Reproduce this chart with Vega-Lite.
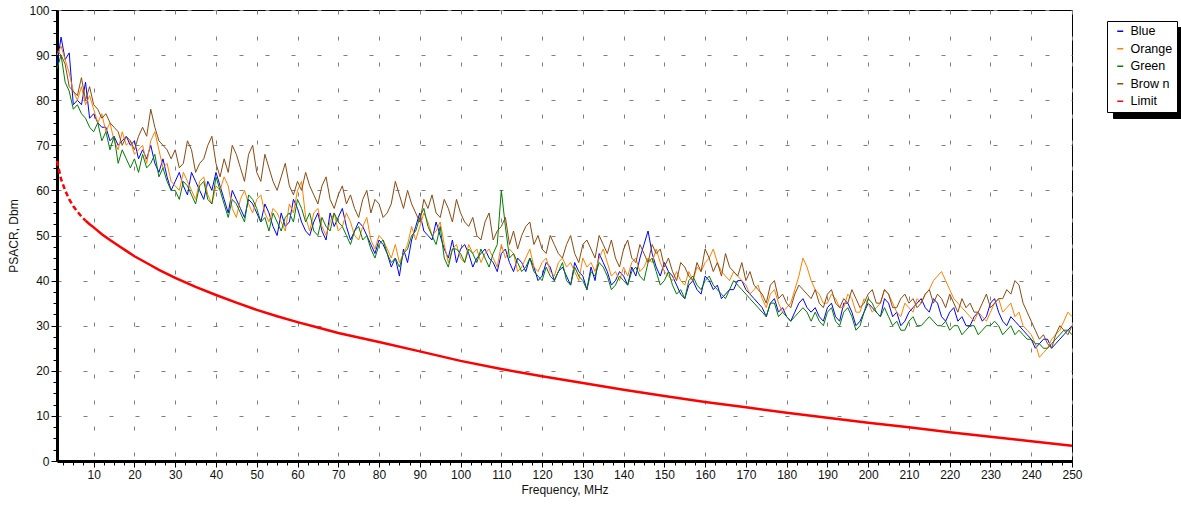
{
  "$schema": "https://vega.github.io/schema/vega-lite/v6.json",
  "width": 1015,
  "height": 451,
  "autosize": "none",
  "padding": {"left": 57, "top": 10, "right": 109, "bottom": 46},
  "config": {
    "font": "Liberation Sans",
    "view": {"stroke": "black", "strokeWidth": 1},
    "axis": {
      "domainColor": "black", "domainWidth": 3, "tickColor": "black",
      "gridColor": "#7f7f7f", "gridDash": [4, 22], "gridWidth": 1,
      "labelFont": "Liberation Sans", "labelFontSize": 12, "labelColor": "#111",
      "titleFont": "Liberation Sans", "titleFontSize": 12, "titleFontWeight": "normal", "titleColor": "#111",
      "labelOverlap": false, "labelFlush": false
    },
    "legend": {
      "title": null, "padding": 4, "labelFontSize": 12.5, "labelColor": "#000", "labelFont": "Liberation Sans",
      "symbolType": "stroke", "symbolSize": 36, "symbolStrokeWidth": 1.5, "rowPadding": 4.5, "labelOffset": 4,
      "symbolOffset": 3, "orient": "none"
    }
  },
  "datasets": {
    "meas": [
      {"f":1,"Blue":88,"Orange":90,"Green":87,"Brow n":91},
      {"f":2,"Blue":94,"Orange":92,"Green":90,"Brow n":90},
      {"f":3,"Blue":89,"Orange":89,"Green":84,"Brow n":88},
      {"f":4,"Blue":90.5,"Orange":86,"Green":82,"Brow n":83},
      {"f":5,"Blue":79,"Orange":82,"Green":78,"Brow n":82},
      {"f":6,"Blue":80,"Orange":80,"Green":79,"Brow n":81},
      {"f":7,"Blue":79,"Orange":83,"Green":77,"Brow n":85},
      {"f":8,"Blue":84,"Orange":79,"Green":76,"Brow n":80},
      {"f":9,"Blue":76,"Orange":81,"Green":74,"Brow n":83},
      {"f":10,"Blue":77,"Orange":78,"Green":73,"Brow n":79},
      {"f":11,"Blue":75,"Orange":75,"Green":75,"Brow n":78},
      {"f":12,"Blue":74,"Orange":77,"Green":71,"Brow n":76},
      {"f":13,"Blue":74,"Orange":73,"Green":73,"Brow n":77},
      {"f":14,"Blue":71,"Orange":75,"Green":69,"Brow n":75},
      {"f":15,"Blue":72,"Orange":71,"Green":72,"Brow n":74},
      {"f":16,"Blue":70,"Orange":69,"Green":66,"Brow n":73},
      {"f":17,"Blue":71,"Orange":73,"Green":69,"Brow n":70},
      {"f":18,"Blue":72,"Orange":70,"Green":67,"Brow n":72},
      {"f":19,"Blue":70,"Orange":71,"Green":65,"Brow n":71},
      {"f":20,"Blue":71,"Orange":68,"Green":67,"Brow n":69},
      {"f":21,"Blue":67,"Orange":69,"Green":64,"Brow n":72},
      {"f":22,"Blue":69,"Orange":70,"Green":68,"Brow n":74},
      {"f":23,"Blue":67,"Orange":66,"Green":65,"Brow n":72},
      {"f":24,"Blue":70,"Orange":71,"Green":66,"Brow n":78},
      {"f":25,"Blue":66,"Orange":73,"Green":68,"Brow n":74},
      {"f":26,"Blue":64,"Orange":69,"Green":63,"Brow n":71},
      {"f":27,"Blue":67,"Orange":65,"Green":65,"Brow n":70},
      {"f":28,"Blue":63,"Orange":66,"Green":62,"Brow n":69},
      {"f":29,"Blue":60,"Orange":62,"Green":60,"Brow n":67},
      {"f":30,"Blue":62,"Orange":61,"Green":60,"Brow n":69},
      {"f":31,"Blue":64,"Orange":60,"Green":58,"Brow n":65},
      {"f":32,"Blue":61,"Orange":64,"Green":62,"Brow n":66},
      {"f":33,"Blue":59,"Orange":62,"Green":61,"Brow n":71},
      {"f":34,"Blue":64,"Orange":60,"Green":59,"Brow n":69},
      {"f":35,"Blue":62,"Orange":58,"Green":57,"Brow n":64},
      {"f":36,"Blue":60,"Orange":62,"Green":61,"Brow n":66},
      {"f":37,"Blue":58,"Orange":63,"Green":62,"Brow n":67},
      {"f":38,"Blue":62,"Orange":59,"Green":58,"Brow n":70},
      {"f":39,"Blue":60,"Orange":57,"Green":57,"Brow n":72},
      {"f":40,"Blue":64,"Orange":61,"Green":63,"Brow n":66},
      {"f":41,"Blue":61,"Orange":60,"Green":60,"Brow n":63},
      {"f":42,"Blue":58,"Orange":63,"Green":57,"Brow n":67},
      {"f":43,"Blue":55,"Orange":61,"Green":54,"Brow n":64},
      {"f":44,"Blue":60,"Orange":56,"Green":58,"Brow n":70},
      {"f":45,"Blue":58,"Orange":54,"Green":57,"Brow n":68},
      {"f":46,"Blue":56,"Orange":58,"Green":55,"Brow n":65},
      {"f":47,"Blue":54,"Orange":60,"Green":53,"Brow n":62},
      {"f":48,"Blue":58,"Orange":57,"Green":59,"Brow n":68},
      {"f":49,"Blue":57,"Orange":55,"Green":58,"Brow n":70},
      {"f":50,"Blue":55,"Orange":58,"Green":56,"Brow n":64},
      {"f":51,"Blue":53,"Orange":59,"Green":53,"Brow n":62},
      {"f":52,"Blue":57,"Orange":55,"Green":54,"Brow n":68},
      {"f":53,"Blue":55,"Orange":53,"Green":51,"Brow n":65},
      {"f":54,"Blue":52,"Orange":56,"Green":55,"Brow n":62},
      {"f":55,"Blue":50,"Orange":55,"Green":53,"Brow n":60},
      {"f":56,"Blue":55,"Orange":53,"Green":51,"Brow n":63},
      {"f":57,"Blue":52,"Orange":51,"Green":54,"Brow n":66},
      {"f":58,"Blue":53,"Orange":57,"Green":55,"Brow n":61},
      {"f":59,"Blue":58,"Orange":55,"Green":53,"Brow n":59},
      {"f":60,"Blue":56,"Orange":60,"Green":58,"Brow n":62},
      {"f":61,"Blue":53,"Orange":62,"Green":56,"Brow n":60},
      {"f":62,"Blue":51,"Orange":54,"Green":53,"Brow n":64},
      {"f":63,"Blue":50,"Orange":51,"Green":55,"Brow n":61},
      {"f":64,"Blue":53,"Orange":55,"Green":51,"Brow n":59},
      {"f":65,"Blue":55,"Orange":56,"Green":50,"Brow n":57},
      {"f":66,"Blue":51,"Orange":52,"Green":54,"Brow n":61},
      {"f":67,"Blue":49,"Orange":50,"Green":52,"Brow n":63},
      {"f":68,"Blue":55,"Orange":53,"Green":51,"Brow n":58},
      {"f":69,"Blue":52,"Orange":55,"Green":55,"Brow n":56},
      {"f":70,"Blue":54,"Orange":51,"Green":53,"Brow n":59},
      {"f":71,"Blue":56,"Orange":52,"Green":52,"Brow n":61},
      {"f":72,"Blue":52,"Orange":55,"Green":50,"Brow n":57},
      {"f":73,"Blue":49,"Orange":53,"Green":48,"Brow n":59},
      {"f":74,"Blue":51,"Orange":50,"Green":51,"Brow n":56},
      {"f":75,"Blue":53,"Orange":49,"Green":52,"Brow n":54},
      {"f":76,"Blue":52,"Orange":52,"Green":49,"Brow n":58},
      {"f":77,"Blue":50,"Orange":54,"Green":50,"Brow n":60},
      {"f":78,"Blue":48,"Orange":49,"Green":47,"Brow n":55},
      {"f":79,"Blue":46,"Orange":47,"Green":45,"Brow n":58},
      {"f":80,"Blue":49,"Orange":50,"Green":48,"Brow n":57},
      {"f":81,"Blue":48,"Orange":49,"Green":49,"Brow n":54},
      {"f":82,"Blue":46,"Orange":47,"Green":46,"Brow n":55},
      {"f":83,"Blue":43,"Orange":45,"Green":44,"Brow n":57},
      {"f":84,"Blue":45,"Orange":48,"Green":45,"Brow n":62},
      {"f":85,"Blue":41,"Orange":44,"Green":43,"Brow n":59},
      {"f":86,"Blue":47,"Orange":46,"Green":46,"Brow n":56},
      {"f":87,"Blue":44,"Orange":48,"Green":47,"Brow n":60},
      {"f":88,"Blue":49,"Orange":52,"Green":50,"Brow n":57},
      {"f":89,"Blue":52,"Orange":49,"Green":51,"Brow n":55},
      {"f":90,"Blue":55,"Orange":52,"Green":54,"Brow n":53},
      {"f":91,"Blue":51,"Orange":55,"Green":56,"Brow n":58},
      {"f":92,"Blue":50,"Orange":53,"Green":52,"Brow n":56},
      {"f":93,"Blue":49,"Orange":50,"Green":50,"Brow n":59},
      {"f":94,"Blue":53,"Orange":51,"Green":48,"Brow n":55},
      {"f":95,"Blue":50,"Orange":53,"Green":52,"Brow n":54},
      {"f":96,"Blue":47,"Orange":48,"Green":45,"Brow n":58},
      {"f":97,"Blue":45,"Orange":44,"Green":43,"Brow n":56},
      {"f":98,"Blue":49,"Orange":47,"Green":47,"Brow n":53},
      {"f":99,"Blue":44,"Orange":48,"Green":47,"Brow n":58},
      {"f":100,"Blue":47,"Orange":45,"Green":46,"Brow n":55},
      {"f":101,"Blue":48,"Orange":44,"Green":44,"Brow n":53},
      {"f":102,"Blue":46,"Orange":48,"Green":47,"Brow n":52},
      {"f":103,"Blue":43,"Orange":46,"Green":46,"Brow n":54},
      {"f":104,"Blue":45,"Orange":47,"Green":44,"Brow n":50},
      {"f":105,"Blue":46,"Orange":44,"Green":47,"Brow n":49},
      {"f":106,"Blue":47,"Orange":46,"Green":45,"Brow n":53},
      {"f":107,"Blue":45,"Orange":47,"Green":43,"Brow n":55},
      {"f":108,"Blue":44,"Orange":45,"Green":46,"Brow n":49},
      {"f":109,"Blue":42,"Orange":43,"Green":48,"Brow n":51},
      {"f":110,"Blue":46,"Orange":48,"Green":60,"Brow n":52},
      {"f":111,"Blue":47,"Orange":45,"Green":52,"Brow n":54},
      {"f":112,"Blue":44,"Orange":47,"Green":45,"Brow n":48},
      {"f":113,"Blue":42,"Orange":46,"Green":46,"Brow n":51},
      {"f":114,"Blue":45,"Orange":42,"Green":44,"Brow n":47},
      {"f":115,"Blue":44,"Orange":43,"Green":42,"Brow n":50},
      {"f":116,"Blue":42,"Orange":45,"Green":43,"Brow n":52},
      {"f":117,"Blue":45,"Orange":47,"Green":45,"Brow n":53},
      {"f":118,"Blue":43,"Orange":43,"Green":42,"Brow n":48},
      {"f":119,"Blue":40,"Orange":42,"Green":41,"Brow n":50},
      {"f":120,"Blue":41,"Orange":44,"Green":40,"Brow n":47},
      {"f":121,"Blue":44,"Orange":45,"Green":43,"Brow n":46},
      {"f":122,"Blue":43,"Orange":42,"Green":41,"Brow n":50},
      {"f":123,"Blue":40,"Orange":41,"Green":40,"Brow n":48},
      {"f":124,"Blue":42,"Orange":44,"Green":42,"Brow n":46},
      {"f":125,"Blue":43,"Orange":45,"Green":44,"Brow n":45},
      {"f":126,"Blue":41,"Orange":43,"Green":40,"Brow n":48},
      {"f":127,"Blue":39,"Orange":44,"Green":39,"Brow n":50},
      {"f":128,"Blue":44,"Orange":42,"Green":43,"Brow n":46},
      {"f":129,"Blue":42,"Orange":40,"Green":41,"Brow n":44},
      {"f":130,"Blue":41,"Orange":45,"Green":40,"Brow n":48},
      {"f":131,"Blue":38,"Orange":43,"Green":38,"Brow n":49},
      {"f":132,"Blue":43,"Orange":44,"Green":42,"Brow n":47},
      {"f":133,"Blue":40,"Orange":42,"Green":41,"Brow n":45},
      {"f":134,"Blue":46,"Orange":45,"Green":44,"Brow n":50},
      {"f":135,"Blue":44,"Orange":47,"Green":43,"Brow n":48},
      {"f":136,"Blue":42,"Orange":44,"Green":41,"Brow n":46},
      {"f":137,"Blue":39,"Orange":41,"Green":38,"Brow n":49},
      {"f":138,"Blue":40,"Orange":42,"Green":39,"Brow n":45},
      {"f":139,"Blue":42,"Orange":40,"Green":41,"Brow n":43},
      {"f":140,"Blue":41,"Orange":43,"Green":40,"Brow n":47},
      {"f":141,"Blue":39,"Orange":41,"Green":39,"Brow n":49},
      {"f":142,"Blue":43,"Orange":44,"Green":42,"Brow n":45},
      {"f":143,"Blue":41,"Orange":45,"Green":43,"Brow n":44},
      {"f":144,"Blue":45,"Orange":42,"Green":41,"Brow n":48},
      {"f":145,"Blue":48,"Orange":43,"Green":40,"Brow n":46},
      {"f":146,"Blue":51,"Orange":45,"Green":44,"Brow n":44},
      {"f":147,"Blue":46,"Orange":44,"Green":45,"Brow n":48},
      {"f":148,"Blue":43,"Orange":47,"Green":42,"Brow n":46},
      {"f":149,"Blue":41,"Orange":44,"Green":39,"Brow n":47},
      {"f":150,"Blue":44,"Orange":42,"Green":40,"Brow n":43},
      {"f":151,"Blue":42,"Orange":41,"Green":42,"Brow n":45},
      {"f":152,"Blue":41,"Orange":40,"Green":39,"Brow n":42},
      {"f":153,"Blue":39,"Orange":42,"Green":37,"Brow n":40},
      {"f":154,"Blue":37,"Orange":40,"Green":38,"Brow n":44},
      {"f":155,"Blue":36,"Orange":39,"Green":36,"Brow n":43},
      {"f":156,"Blue":39,"Orange":42,"Green":40,"Brow n":41},
      {"f":157,"Blue":40,"Orange":40,"Green":41,"Brow n":40},
      {"f":158,"Blue":38,"Orange":43,"Green":39,"Brow n":44},
      {"f":159,"Blue":37,"Orange":42,"Green":38,"Brow n":42},
      {"f":160,"Blue":41,"Orange":44,"Green":40,"Brow n":47},
      {"f":161,"Blue":40,"Orange":45,"Green":41,"Brow n":45},
      {"f":162,"Blue":38,"Orange":47,"Green":39,"Brow n":42},
      {"f":163,"Blue":39,"Orange":44,"Green":38,"Brow n":44},
      {"f":164,"Blue":36,"Orange":42,"Green":37,"Brow n":41},
      {"f":165,"Blue":37,"Orange":41,"Green":36,"Brow n":46},
      {"f":166,"Blue":38,"Orange":40,"Green":38,"Brow n":43},
      {"f":167,"Blue":38,"Orange":42,"Green":40,"Brow n":42},
      {"f":168,"Blue":40,"Orange":41,"Green":39,"Brow n":41},
      {"f":169,"Blue":40,"Orange":40,"Green":38,"Brow n":44},
      {"f":170,"Blue":38,"Orange":39,"Green":37,"Brow n":40},
      {"f":171,"Blue":37,"Orange":37,"Green":36,"Brow n":42},
      {"f":172,"Blue":36,"Orange":38,"Green":35,"Brow n":39},
      {"f":173,"Blue":35,"Orange":39,"Green":34,"Brow n":38},
      {"f":174,"Blue":34,"Orange":36,"Green":33,"Brow n":37},
      {"f":175,"Blue":32,"Orange":34,"Green":32,"Brow n":35},
      {"f":176,"Blue":35,"Orange":37,"Green":35,"Brow n":39},
      {"f":177,"Blue":36,"Orange":38,"Green":35,"Brow n":40},
      {"f":178,"Blue":33,"Orange":35,"Green":32,"Brow n":36},
      {"f":179,"Blue":34,"Orange":33,"Green":33,"Brow n":37},
      {"f":180,"Blue":32,"Orange":34,"Green":32,"Brow n":35},
      {"f":181,"Blue":31,"Orange":35,"Green":31,"Brow n":34},
      {"f":182,"Blue":33,"Orange":38,"Green":32,"Brow n":37},
      {"f":183,"Blue":35,"Orange":41,"Green":33,"Brow n":39},
      {"f":184,"Blue":36,"Orange":45,"Green":34,"Brow n":38},
      {"f":185,"Blue":34,"Orange":43,"Green":33,"Brow n":37},
      {"f":186,"Blue":33,"Orange":40,"Green":31,"Brow n":36},
      {"f":187,"Blue":34,"Orange":38,"Green":33,"Brow n":38},
      {"f":188,"Blue":32,"Orange":37,"Green":31,"Brow n":35},
      {"f":189,"Blue":31,"Orange":35,"Green":30,"Brow n":34},
      {"f":190,"Blue":34,"Orange":35,"Green":33,"Brow n":37},
      {"f":191,"Blue":35,"Orange":37,"Green":34,"Brow n":38},
      {"f":192,"Blue":32,"Orange":36,"Green":31,"Brow n":35},
      {"f":193,"Blue":31,"Orange":34,"Green":30,"Brow n":34},
      {"f":194,"Blue":35,"Orange":34,"Green":33,"Brow n":36},
      {"f":195,"Blue":35,"Orange":37,"Green":34,"Brow n":35},
      {"f":196,"Blue":33,"Orange":36,"Green":32,"Brow n":38},
      {"f":197,"Blue":30,"Orange":33,"Green":29,"Brow n":36},
      {"f":198,"Blue":31,"Orange":33,"Green":30,"Brow n":34},
      {"f":199,"Blue":33,"Orange":36,"Green":33,"Brow n":35},
      {"f":200,"Blue":35,"Orange":35,"Green":36,"Brow n":37},
      {"f":201,"Blue":34,"Orange":33,"Green":35,"Brow n":38},
      {"f":202,"Blue":33,"Orange":34,"Green":33,"Brow n":35},
      {"f":203,"Blue":32,"Orange":35,"Green":32,"Brow n":35},
      {"f":204,"Blue":36,"Orange":38,"Green":34,"Brow n":38},
      {"f":205,"Blue":35,"Orange":37,"Green":32,"Brow n":37},
      {"f":206,"Blue":32,"Orange":35,"Green":30,"Brow n":34},
      {"f":207,"Blue":33,"Orange":33,"Green":31,"Brow n":34},
      {"f":208,"Blue":30,"Orange":32,"Green":29,"Brow n":36},
      {"f":209,"Blue":31,"Orange":35,"Green":29,"Brow n":37},
      {"f":210,"Blue":33,"Orange":34,"Green":31,"Brow n":35},
      {"f":211,"Blue":34,"Orange":33,"Green":32,"Brow n":36},
      {"f":212,"Blue":35,"Orange":36,"Green":30,"Brow n":34},
      {"f":213,"Blue":36,"Orange":35,"Green":30,"Brow n":35},
      {"f":214,"Blue":34,"Orange":37,"Green":31,"Brow n":37},
      {"f":215,"Blue":33,"Orange":38,"Green":32,"Brow n":38},
      {"f":216,"Blue":36,"Orange":40,"Green":31,"Brow n":35},
      {"f":217,"Blue":35,"Orange":41,"Green":30,"Brow n":37},
      {"f":218,"Blue":32,"Orange":42,"Green":30,"Brow n":36},
      {"f":219,"Blue":31,"Orange":40,"Green":31,"Brow n":34},
      {"f":220,"Blue":33,"Orange":38,"Green":29,"Brow n":37},
      {"f":221,"Blue":34,"Orange":36,"Green":30,"Brow n":35},
      {"f":222,"Blue":31,"Orange":35,"Green":30,"Brow n":33},
      {"f":223,"Blue":32,"Orange":34,"Green":28,"Brow n":36},
      {"f":224,"Blue":30,"Orange":33,"Green":29,"Brow n":34},
      {"f":225,"Blue":30,"Orange":32,"Green":30,"Brow n":35},
      {"f":226,"Blue":32,"Orange":31,"Green":30,"Brow n":33},
      {"f":227,"Blue":33,"Orange":33,"Green":28,"Brow n":33},
      {"f":228,"Blue":31,"Orange":32,"Green":29,"Brow n":35},
      {"f":229,"Blue":32,"Orange":31,"Green":30,"Brow n":37},
      {"f":230,"Blue":35,"Orange":33,"Green":30,"Brow n":34},
      {"f":231,"Blue":36,"Orange":35,"Green":31,"Brow n":35},
      {"f":232,"Blue":33,"Orange":36,"Green":30,"Brow n":36},
      {"f":233,"Blue":31,"Orange":33,"Green":28,"Brow n":36},
      {"f":234,"Blue":30,"Orange":34,"Green":29,"Brow n":38},
      {"f":235,"Blue":32,"Orange":35,"Green":30,"Brow n":37},
      {"f":236,"Blue":31,"Orange":32,"Green":28,"Brow n":40},
      {"f":237,"Blue":30,"Orange":33,"Green":29,"Brow n":39},
      {"f":238,"Blue":29,"Orange":30,"Green":28,"Brow n":35},
      {"f":239,"Blue":28,"Orange":29,"Green":27,"Brow n":33},
      {"f":240,"Blue":27,"Orange":28,"Green":27,"Brow n":31},
      {"f":241,"Blue":25,"Orange":26,"Green":26,"Brow n":29},
      {"f":242,"Blue":26,"Orange":23,"Green":26,"Brow n":27},
      {"f":243,"Blue":27,"Orange":24,"Green":25,"Brow n":28},
      {"f":244,"Blue":27,"Orange":25,"Green":25,"Brow n":26},
      {"f":245,"Blue":25,"Orange":27,"Green":26,"Brow n":25},
      {"f":246,"Blue":26,"Orange":28,"Green":27,"Brow n":28},
      {"f":247,"Blue":27,"Orange":29,"Green":28,"Brow n":30},
      {"f":248,"Blue":28,"Orange":31,"Green":29,"Brow n":29},
      {"f":249,"Blue":29,"Orange":33,"Green":29,"Brow n":28},
      {"f":250,"Blue":30,"Orange":32,"Green":28,"Brow n":30}
    ],
    "limit": [
      {"f":1,"v":66.5},{"f":2,"v":62.5},{"f":3,"v":60},{"f":4,"v":58},{"f":5,"v":56.5},
      {"f":6,"v":55.3},{"f":7,"v":54.2},{"f":8,"v":53.3},{"f":9,"v":52.5},{"f":10,"v":51.8},
      {"f":12,"v":50.3},{"f":14,"v":49},{"f":16,"v":47.8},{"f":18,"v":46.6},{"f":20,"v":45.4},
      {"f":22,"v":44.4},{"f":24,"v":43.4},{"f":26,"v":42.4},{"f":28,"v":41.5},{"f":30,"v":40.6},
      {"f":35,"v":38.6},{"f":40,"v":36.8},{"f":45,"v":35.1},{"f":50,"v":33.5},{"f":55,"v":32.1},
      {"f":60,"v":30.8},{"f":65,"v":29.6},{"f":70,"v":28.4},{"f":75,"v":27.4},{"f":80,"v":26.4},
      {"f":90,"v":24.3},{"f":100,"v":22.2},{"f":110,"v":20.4},{"f":120,"v":18.8},{"f":130,"v":17.3},
      {"f":140,"v":15.8},{"f":150,"v":14.4},{"f":160,"v":13.1},{"f":170,"v":11.9},{"f":180,"v":10.7},
      {"f":190,"v":9.6},{"f":200,"v":8.5},{"f":210,"v":7.5},{"f":220,"v":6.4},{"f":230,"v":5.4},
      {"f":240,"v":4.4},{"f":250,"v":3.4}
    ],
    "shadow": [
      {"f":1,"v":66.5,"k":"s1"},{"f":1,"v":66.5,"k":"s2"},{"f":1,"v":66.5,"k":"s3"},{"f":1,"v":66.5,"k":"s4"},{"f":1,"v":66.5,"k":"s5"}
    ]
  },
  "encoding": {
    "x": {
      "field": "f", "type": "quantitative",
      "scale": {"domain": [1, 250], "nice": false, "zero": false},
      "axis": {
        "title": "Frequency, MHz",
        "values": [2.5,5,7.5,10,12.5,15,17.5,20,22.5,25,27.5,30,32.5,35,37.5,40,42.5,45,47.5,50,52.5,55,57.5,60,62.5,65,67.5,70,72.5,75,77.5,80,82.5,85,87.5,90,92.5,95,97.5,100,102.5,105,107.5,110,112.5,115,117.5,120,122.5,125,127.5,130,132.5,135,137.5,140,142.5,145,147.5,150,152.5,155,157.5,160,162.5,165,167.5,170,172.5,175,177.5,180,182.5,185,187.5,190,192.5,195,197.5,200,202.5,205,207.5,210,212.5,215,217.5,220,222.5,225,227.5,230,232.5,235,237.5,240,242.5,245,247.5,250],
        "labelExpr": "datum.value % 10 === 0 ? datum.label : ''",
        "gridOpacity": {"condition": {"test": "datum.value % 10 !== 0", "value": 0}, "value": 1},
        "tickSize": {"condition": {"test": "datum.value % 10 !== 0", "value": 4}, "value": 6},
        "labelPadding": 2,
        "titlePadding": 4
      }
    },
    "y": {
      "field": "v", "type": "quantitative",
      "scale": {"domain": [0, 100], "nice": false},
      "axis": {
        "title": "PSACR, Dbm",
        "values": [0,2.5,5,7.5,10,12.5,15,17.5,20,22.5,25,27.5,30,32.5,35,37.5,40,42.5,45,47.5,50,52.5,55,57.5,60,62.5,65,67.5,70,72.5,75,77.5,80,82.5,85,87.5,90,92.5,95,97.5,100],
        "labelExpr": "datum.value % 10 === 0 ? datum.label : ''",
        "gridOpacity": {"condition": {"test": "datum.value % 10 !== 0", "value": 0}, "value": 1},
        "tickSize": {"condition": {"test": "datum.value % 10 !== 0", "value": 4}, "value": 6},
        "labelPadding": 2,
        "titlePadding": 8
      }
    }
  },
  "layer": [
    {
      "data": {"name": "shadow"},
      "mark": {"type": "point", "opacity": 0},
      "encoding": {
        "fill": {
          "field": "k", "type": "nominal",
          "scale": {"domain": ["s1", "s2", "s3", "s4", "s5"], "range": ["black", "black", "black", "black", "black"]},
          "legend": {"legendX": 1056, "legendY": 17, "strokeColor": "black", "fillColor": "black", "labelExpr": "''", "labelOffset": 45}
        }
      }
    },
    {
      "data": {"name": "meas"},
      "transform": [{"fold": ["Blue", "Orange", "Green", "Brow n"], "as": ["series", "v"]}],
      "mark": {"type": "line", "strokeWidth": 1},
      "encoding": {
        "stroke": {
          "field": "series", "type": "nominal",
          "scale": {"domain": ["Blue", "Orange", "Green", "Brow n", "Limit"], "range": ["#0000ff", "#ff8000", "#007f00", "#8b4a10", "#ff0000"]},
          "legend": {"legendX": 1050, "legendY": 11, "strokeColor": "black", "fillColor": "white"}
        }
      }
    },
    {
      "data": {"name": "limit"},
      "transform": [{"filter": "datum.f <= 8"}],
      "mark": {"type": "line", "strokeWidth": 2.5, "strokeDash": [5, 3]},
      "encoding": {"stroke": {"datum": "Limit", "type": "nominal"}}
    },
    {
      "data": {"name": "limit"},
      "transform": [{"filter": "datum.f >= 8"}],
      "mark": {"type": "line", "strokeWidth": 2.5},
      "encoding": {"stroke": {"datum": "Limit", "type": "nominal"}}
    }
  ]
}
